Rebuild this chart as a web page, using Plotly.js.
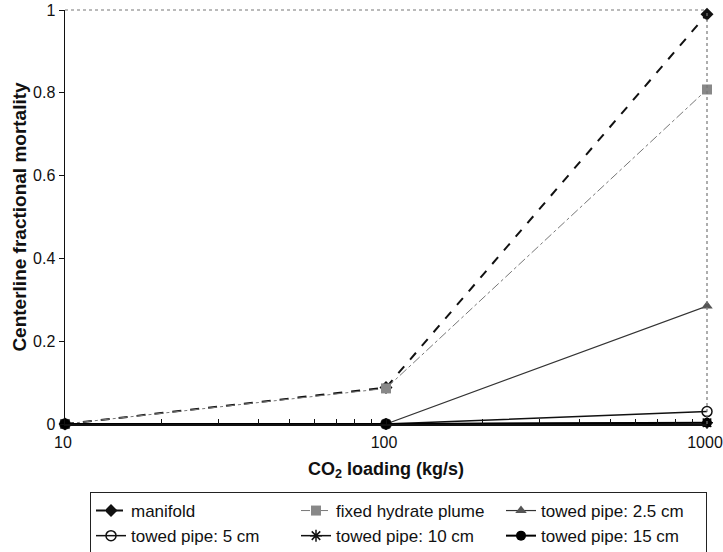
<!DOCTYPE html>
<html>
<head>
<meta charset="utf-8">
<script src="https://cdn.plot.ly/plotly-3.0.1.min.js"></script>
<style>html,body{margin:0;padding:0;background:#fff;}#chart{width:723px;height:552px;}</style>
</head>
<body>
<div id="chart"></div>
<script>
const loading = [10, 100, 1000];
const manifold = [0, 0.088, 0.99];
const fixedHydrate = [0, 0.086, 0.808];
const towed25 = [0, 0, 0.285];
const towed5 = [0, 0, 0.03];
const towed10 = [0, 0, 0.003];
const towed15 = [0, 0, 0.003];
const seriesNames = ["manifold", "fixed hydrate plume", "towed pipe: 2.5 cm",
  "towed pipe: 5 cm", "towed pipe: 10 cm", "towed pipe: 15 cm"];
const yTicks = [0, 0.2, 0.4, 0.6, 0.8, 1];
const yTickText = ["0", "0.2", "0.4", "0.6", "0.8", "1"];
const xTicks = [10, 100, 1000];
const xTickText = ["10", "100", "1000"];

const font = "Liberation Sans, Arial, sans-serif";

const traces = [
  {x: loading, y: manifold, name: seriesNames[0], mode: "lines+markers",
   line: {color: "#111", width: 2, dash: "dash"},
   marker: {symbol: "diamond", size: 10, color: "#111"}},
  {x: loading, y: fixedHydrate, name: seriesNames[1], mode: "lines+markers",
   line: {color: "#777", width: 1, dash: "dashdot"},
   marker: {symbol: "square", size: 10, color: "#888"}},
  {x: loading, y: towed25, name: seriesNames[2], mode: "lines+markers",
   line: {color: "#333", width: 1.2},
   marker: {symbol: "triangle-up", size: 10, color: "#555"}},
  {x: loading, y: towed5, name: seriesNames[3], mode: "lines+markers",
   line: {color: "#111", width: 1.5},
   marker: {symbol: "circle-open", size: 10, color: "#111", line: {width: 1.5}}},
  {x: loading, y: towed10, name: seriesNames[4], mode: "lines+markers",
   line: {color: "#111", width: 1.5},
   marker: {symbol: "asterisk-open", size: 10, color: "#111", line: {width: 1.5}}},
  {x: loading, y: towed15, name: seriesNames[5], mode: "lines+markers",
   line: {color: "#000", width: 2},
   marker: {symbol: "circle", size: 10, color: "#000"}}
];
traces.forEach(t => { t.cliponaxis = false; });

const layout = {
  width: 723, height: 552,
  margin: {l: 65, r: 16, t: 10, b: 128},
  paper_bgcolor: "#fff", plot_bgcolor: "#fff",
  font: {family: font, size: 16, color: "#111"},
  showlegend: true,
  xaxis: {
    type: "log", range: [1, 3],
    tickvals: xTicks, ticktext: xTickText,
    ticks: "inside", ticklen: 5, tickcolor: "#111",
    minor: {ticks: "inside", ticklen: 5, tickcolor: "#111", dtick: "D1", showgrid: false},
    showline: true, linecolor: "#111", linewidth: 1.5,
    showgrid: false, zeroline: false,
    ticklabeloverflow: "allow",
    ticklabelstandoff: 3,
    ticklabelshift: -2,
    tickfont: {size: 16, family: font},
    title: {text: "<b>CO<sub>2</sub> loading (kg/s)</b>", font: {size: 18, family: font}, standoff: 12}
  },
  yaxis: {
    range: [0, 1],
    tickvals: yTicks, ticktext: yTickText,
    ticks: "outside", ticklen: 5, tickcolor: "#111",
    showline: true, linecolor: "#111", linewidth: 1.5,
    showgrid: false, zeroline: false,
    tickfont: {size: 16, family: font},
    title: {text: "<b>Centerline fractional mortality</b>", font: {size: 19, family: font}, standoff: 1}
  },
  shapes: [
    {type: "line", xref: "paper", yref: "paper", x0: 0, x1: 1, y0: 1, y1: 1,
     line: {color: "#777", width: 1.2, dash: "dot"}},
    {type: "line", xref: "paper", yref: "paper", x0: 1, x1: 1, y0: 0, y1: 1,
     line: {color: "#777", width: 1.2, dash: "dot"}}
  ],
  legend: {
    orientation: "h",
    xref: "container", yref: "container",
    x: 90 / 723, xanchor: "left",
    y: 1 - 492 / 552, yanchor: "top",
    bordercolor: "#222", borderwidth: 1,
    font: {size: 17, family: font},
    entrywidth: 160, entrywidthmode: "pixels",
    traceorder: "normal"
  }
};

Plotly.newPlot("chart", traces, layout, {displayModeBar: false, staticPlot: true});
</script>
</body>
</html>
